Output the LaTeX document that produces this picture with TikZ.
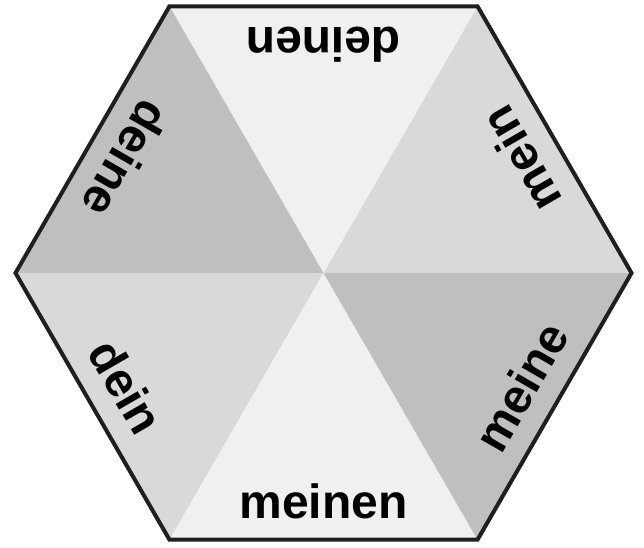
\documentclass[tikz,border=0pt]{standalone}
\usepackage{fontspec}
\setmainfont{Liberation Sans}
\begin{document}
\begin{tikzpicture}[x=1pt,y=1pt,shift={(323.5,273)}]
 \useasboundingbox (-323.5,-274) rectangle (320.5,273);
 \coordinate (c) at (0,0);
 \foreach \a/\f/\w in {0/black!15/mein,60/black!6/deinen,120/black!25/deine,180/black!15/dein,240/black!6/meinen,300/black!25/meine}{
  \fill[\f] (c) -- (\a:308) -- (\a+60:308) -- cycle;
  \node[rotate=\a+120,anchor=base,inner sep=0pt,font=\bfseries\fontsize{48}{48}\selectfont] (w\a) at (\a+30:245) {\w};
 }
 \draw[line width=4pt,black!88,line join=miter] (0:308) -- (60:308) -- (120:308) -- (180:308) -- (240:308) -- (300:308) -- cycle;
\end{tikzpicture}
\end{document}
